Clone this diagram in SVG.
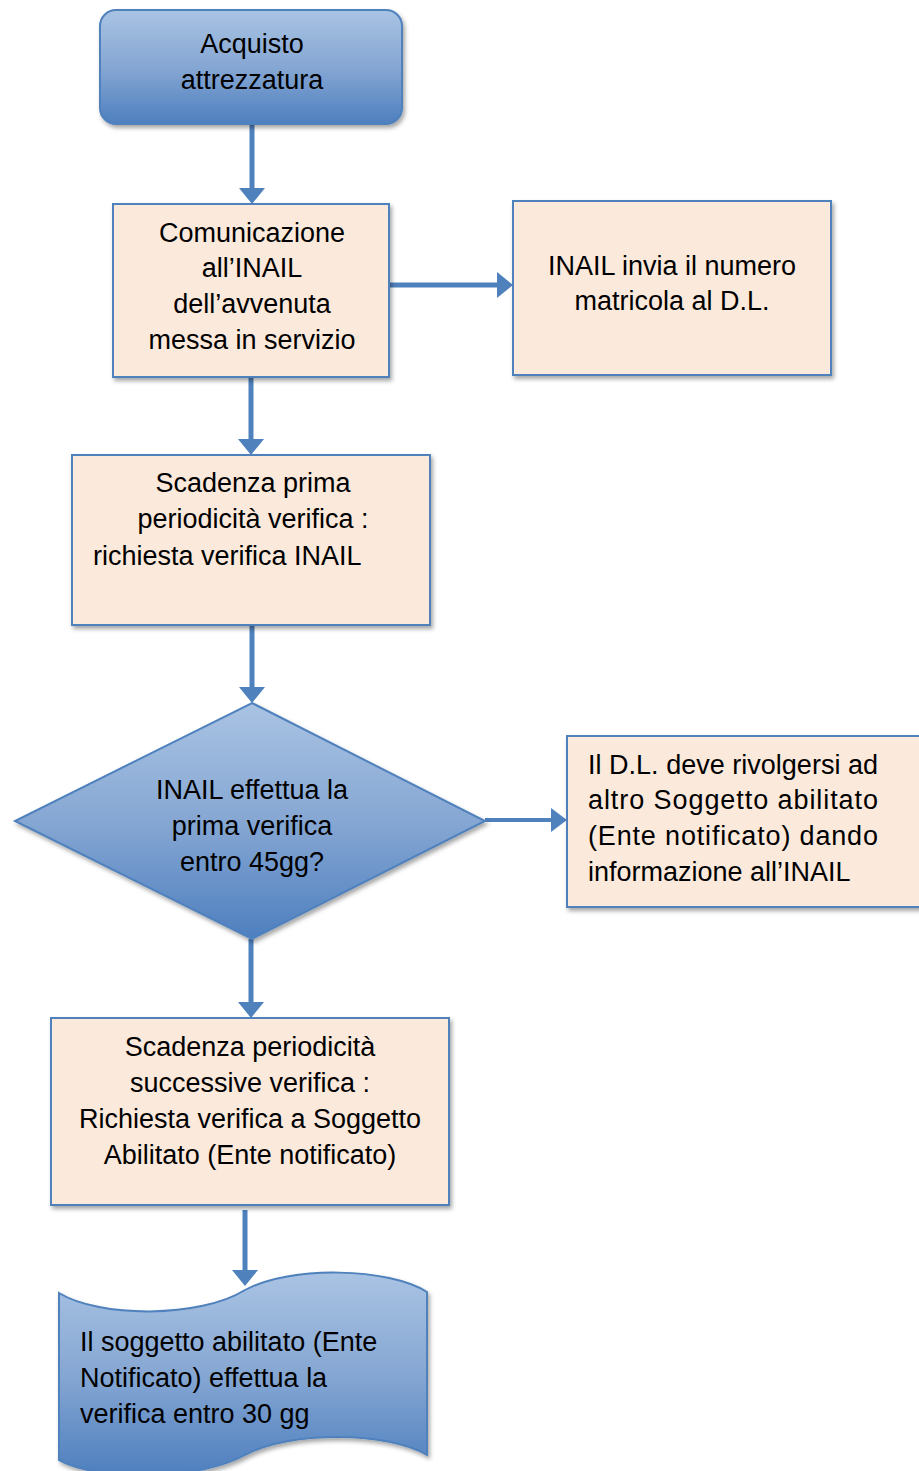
<svg xmlns="http://www.w3.org/2000/svg" width="919" height="1471" viewBox="0 0 919 1471">
<defs>
<linearGradient id="blue" x1="0" y1="0" x2="0" y2="1">
<stop offset="0" stop-color="#a9c3e3"/>
<stop offset="0.5" stop-color="#86a7d3"/>
<stop offset="1" stop-color="#4e7fbf"/>
</linearGradient>
<filter id="sh" x="-10%" y="-10%" width="130%" height="130%">
<feDropShadow dx="2" dy="3" stdDeviation="2" flood-color="#000" flood-opacity="0.35"/>
</filter>
<marker id="ah" viewBox="0 0 16 26" refX="0" refY="13" markerWidth="16" markerHeight="26" markerUnits="userSpaceOnUse" orient="auto">
<path d="M0,0 L16,13 L0,26 Z" fill="#4f81bd"/>
</marker>
<marker id="ahs" viewBox="0 0 16 24" refX="0" refY="12" markerWidth="16" markerHeight="24" markerUnits="userSpaceOnUse" orient="auto">
<path d="M0,0 L16,12 L0,24 Z" fill="#4f81bd"/>
</marker>
</defs>
<style>
.box{fill:#fbe9db;stroke:#4f81bd;stroke-width:2;filter:url(#sh)}
.blue{fill:url(#blue);stroke:#4f81bd;stroke-width:2;filter:url(#sh)}
.t{font-family:"Liberation Sans",Arial,sans-serif;font-size:27px;fill:#000}
.c{text-anchor:middle}
.ln{stroke:#4f81bd;stroke-width:5;fill:none;marker-end:url(#ah)}
.lns{stroke:#4f81bd;stroke-width:4;fill:none;marker-end:url(#ahs)}
</style>
<g id="connectors">
<path class="ln" d="M252,124 L252,188"/>
<path class="ln" d="M389,285 L497,285"/>
<path class="ln" d="M251,377 L251,439"/>
<path class="ln" d="M252,625 L252,687"/>
<path class="lns" d="M485,820 L551,820"/>
<path class="ln" d="M251,939 L251,1002"/>
<path class="ln" d="M245,1210 L245,1270"/>
</g>
<g id="n1">
<rect class="blue" x="100" y="10" width="302" height="114" rx="16"/>
<text class="t c" x="252" y="53">Acquisto</text>
<text class="t c" x="252" y="89">attrezzatura</text>
</g>
<g id="n2">
<rect class="box" x="113" y="204" width="276" height="173"/>
<text class="t c" x="252" y="242">Comunicazione</text>
<text class="t c" x="252" y="277">all’INAIL</text>
<text class="t c" x="252" y="313">dell’avvenuta</text>
<text class="t c" x="252" y="349">messa in servizio</text>
</g>
<g id="n3">
<rect class="box" x="513" y="201" width="318" height="174"/>
<text class="t c" x="672" y="275">INAIL invia il numero</text>
<text class="t c" x="672" y="310">matricola al D.L.</text>
</g>
<g id="n4">
<rect class="box" x="72" y="455" width="358" height="170"/>
<text class="t c" x="253" y="492">Scadenza prima</text>
<text class="t c" x="253" y="528">periodicità verifica :</text>
<text class="t" x="93" y="565">richiesta verifica INAIL</text>
</g>
<g id="n5">
<polygon class="blue" points="252,703 485,821 252,939 15,821"/>
<text class="t c" x="252" y="799">INAIL effettua la</text>
<text class="t c" x="252" y="835">prima verifica</text>
<text class="t c" x="252" y="871">entro 45gg?</text>
</g>
<g id="n6">
<rect class="box" x="567" y="736" width="360" height="171"/>
<text class="t" x="588" y="774" textLength="290" lengthAdjust="spacing">Il D.L. deve rivolgersi ad</text>
<text class="t" x="588" y="809" textLength="290" lengthAdjust="spacing">altro Soggetto abilitato</text>
<text class="t" x="588" y="845" textLength="290" lengthAdjust="spacing">(Ente notificato) dando</text>
<text class="t" x="588" y="881">informazione all’INAIL</text>
</g>
<g id="n7">
<rect class="box" x="51" y="1018" width="398" height="187"/>
<text class="t c" x="250" y="1056">Scadenza periodicità</text>
<text class="t c" x="250" y="1092">successive verifica :</text>
<text class="t c" x="250" y="1128">Richiesta verifica a Soggetto</text>
<text class="t c" x="250" y="1164">Abilitato (Ente notificato)</text>
</g>
<g id="n8">
<path class="blue" d="M59,1293 C100,1318 200,1318 245,1290 C290,1265 390,1268 427,1292 L427,1455 C390,1432 290,1430 245,1455 C200,1480 100,1482 59,1460 Z"/>
<text class="t" x="80" y="1351">Il soggetto abilitato (Ente</text>
<text class="t" x="80" y="1387">Notificato) effettua la</text>
<text class="t" x="80" y="1423">verifica entro 30 gg</text>
</g>
</svg>
